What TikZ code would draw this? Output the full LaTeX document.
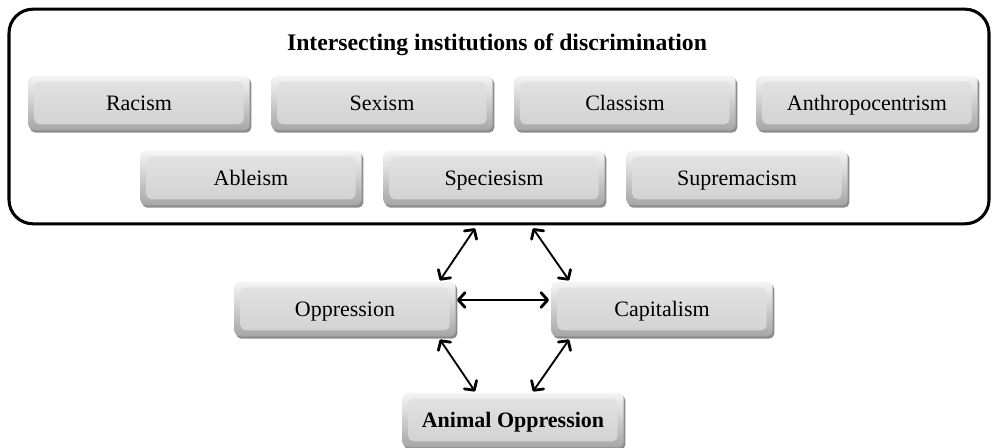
\documentclass[tikz,border=0pt]{standalone}
\usepackage{fontspec}
\setmainfont{Liberation Serif}
\usetikzlibrary{arrows.meta,shadows,calc}
\begin{document}
\begin{tikzpicture}[x=0.75pt,y=-0.75pt,
  bev/.style={rectangle, rounded corners=4pt, minimum width=166pt, minimum height=41pt,
    inner sep=0pt, top color=gray!8, bottom color=gray!70,
    font=\fontsize{16.5}{19}\selectfont, text height=13.5pt, text depth=2pt,
    drop shadow={shadow xshift=1.3pt, shadow yshift=-1.8pt, opacity=0.45, fill=black},
    path picture={\shade[top color=gray!22, bottom color=gray!36]
      ([shift={(4.5pt,-4.5pt)}]path picture bounding box.north west) rectangle
      ([shift={(-4.5pt,4.5pt)}]path picture bounding box.south east);}},
  tip/.tip={Straight Barb[length=5pt,width=11pt,line width=2.1pt,round]},
  link/.style={tip-tip, line width=1.4pt}
]
\useasboundingbox (0,0) rectangle (994,448);

\node[draw, line width=2.3pt, rounded corners=18pt, inner sep=0pt,
  minimum width=735pt, minimum height=161pt] (frame) at (499,116.5) {};
\node[font=\bfseries\fontsize{17.8}{20}\selectfont] (title) at (497,45) {Intersecting institutions of discrimination};

\node[bev] (racism) at (139,103) {Racism};
\node[bev] (sexism) at (382,103) {Sexism};
\node[bev] (classism) at (625,103) {Classism};
\node[bev] (anthro) at (867,103) {Anthropocentrism};
\node[bev] (ableism) at (251,178) {Ableism};
\node[bev] (species) at (494,178) {Speciesism};
\node[bev] (suprem) at (737,178) {Supremacism};

\node[bev] (opp) at (345,309) {Oppression};
\node[bev] (cap) at (662,309) {Capitalism};
\node[bev, font=\bfseries\fontsize{16.5}{19}\selectfont] (animal) at (513,420) {Animal Oppression};

\draw[link] ($(frame.south)+(-24,3)$) -- ($(opp.north east)+(-16,-1)$);
\draw[link] ($(frame.south)+(34,3)$) -- ($(cap.north west)+(18,-1)$);
\draw[link] ($(opp.east)+(1,-9)$) -- ($(cap.west)+(-2,-9)$);
\draw[link] ($(opp.south east)+(-16,3)$) -- ($(animal.north)+(-38,-1)$);
\draw[link] ($(cap.south west)+(18,3)$) -- ($(animal.north)+(20,-1)$);
\end{tikzpicture}
\end{document}
